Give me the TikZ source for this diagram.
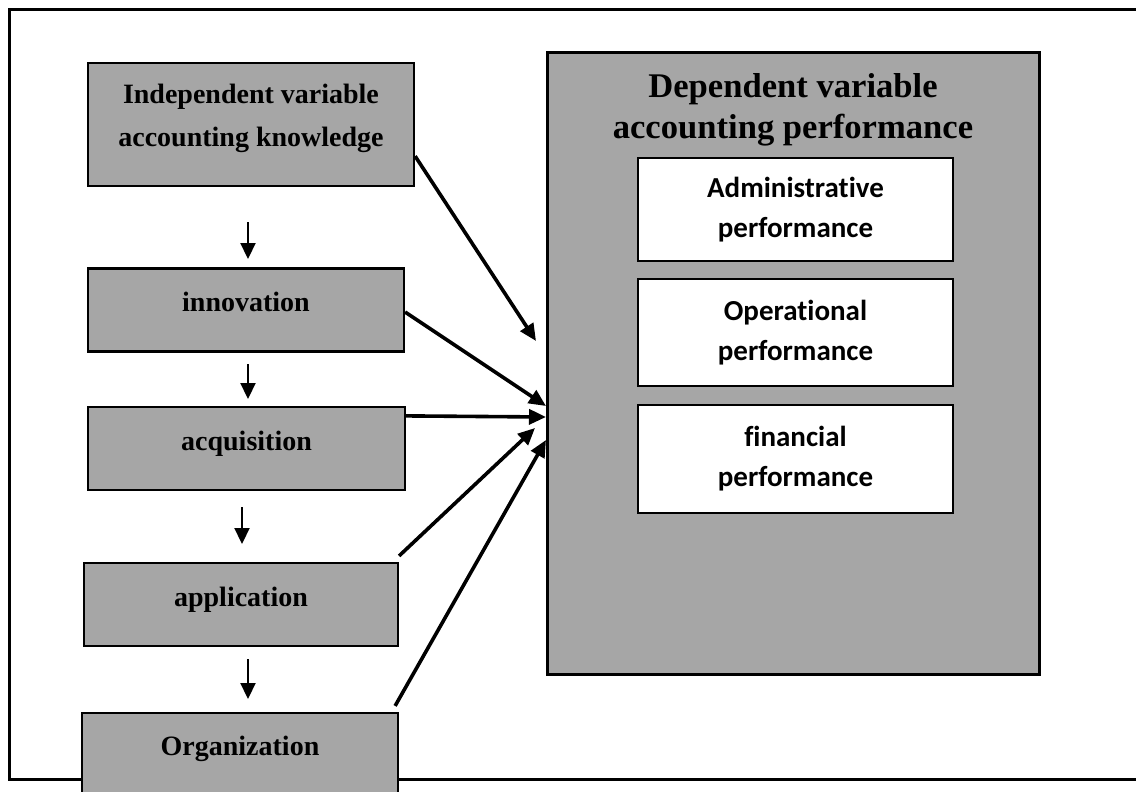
\documentclass[tikz,border=0pt]{standalone}
\usepackage{fontspec}
\setmainfont{Liberation Serif}
\newfontfamily\calibfont[Ligatures=NoCommon]{Carlito}
\usetikzlibrary{arrows.meta}
\definecolor{boxgray}{HTML}{A6A6A6}

\begin{document}
\begin{tikzpicture}[x=1pt,y=-1pt,
  leftbox/.style={draw=black, line width=2.2pt, fill=boxgray, inner sep=0pt, minimum height=83pt},
  lefttext/.style={font=\fontsize{28}{43}\selectfont\bfseries, align=center, inner sep=0pt},
  bigbox/.style={draw=black, line width=3pt, fill=boxgray, inner sep=0pt},
  titletext/.style={font=\fontsize{34.6}{41}\selectfont\bfseries, align=center, inner sep=0pt},
  subbox/.style={draw=black, line width=1.6pt, fill=white, inner sep=0pt, minimum width=315pt,
    font=\calibfont\fontsize{29}{40}\selectfont\bfseries, align=center},
  flow/.style={line width=2.2pt, -{Triangle[length=16pt,width=15pt]}},
  link/.style={line width=3.6pt, -{Triangle[length=17pt,width=15pt]}},
  framestyle/.style={line width=3pt}
]
\useasboundingbox (0,0) rectangle (1136,792);
\clip (0,0) rectangle (1136,792);

% outer frame (open on the right)
\draw[framestyle] (1136,10) -- (9,10) -- (9,779) -- (1136,779);

% independent variable chain
\node[leftbox, minimum width=326pt, minimum height=123pt] (know) at (251,124.5) {};
\node[lefttext] (knowT) at (251,118) {Independent variable\\accounting knowledge};

\node[leftbox, minimum width=316pt] (inn) at (246,310) {};
\node[lefttext, anchor=base] (innT) at (246,311.5) {innovation};

\node[leftbox, minimum width=317pt] (acq) at (246.5,448.5) {};
\node[lefttext, anchor=base] (acqT) at (246.5,450) {acquisition};

\node[leftbox, minimum width=314pt] (app) at (241,604.5) {};
\node[lefttext, anchor=base] (appT) at (241,606) {application};

\node[leftbox, minimum width=316pt] (org) at (240,754.5) {};
\node[lefttext, anchor=base] (orgT) at (240,755) {Organization};

% dependent variable
\node[bigbox, minimum width=492pt, minimum height=621pt] (dep) at (793,363.5) {};
\node[titletext] (depT) at (793,110.3) {Dependent variable\\accounting performance};
\node[subbox, minimum height=103pt] (adm) at (795.5,209.5) {Administrative\\performance};
\node[subbox, minimum height=107pt] (ops) at (795.5,332.5) {Operational\\performance};
\node[subbox, minimum height=108pt] (fin) at (795.5,459) {financial\\performance};

% short downward arrows between the stages
\coordinate (d1a) at (248,222); \coordinate (d1b) at (248,259);
\coordinate (d2a) at (248,364); \coordinate (d2b) at (248,399);
\coordinate (d3a) at (242,507); \coordinate (d3b) at (242,544);
\coordinate (d4a) at (248,659); \coordinate (d4b) at (248,699);
\draw[flow] (d1a) -- (d1b);
\draw[flow] (d2a) -- (d2b);
\draw[flow] (d3a) -- (d3b);
\draw[flow] (d4a) -- (d4b);

% links into the dependent variable
\coordinate (t1) at (536,341);
\coordinate (t2) at (546,406);
\coordinate (t3) at (546,417);
\coordinate (t4) at (535,428);
\coordinate (t5) at (546,440);
\draw[link] ([yshift=31pt]know.south east) -- (t1);
\draw[link] ([yshift=-2pt]inn.east) -- (t2);
\draw[link] ([yshift=-10pt]acq.north east) -- (t3);
\draw[link] ([yshift=6pt]app.north east) -- (t4);
\draw[link] ([shift={(-4pt,6pt)}]org.north east) -- (t5);
\end{tikzpicture}
\end{document}
